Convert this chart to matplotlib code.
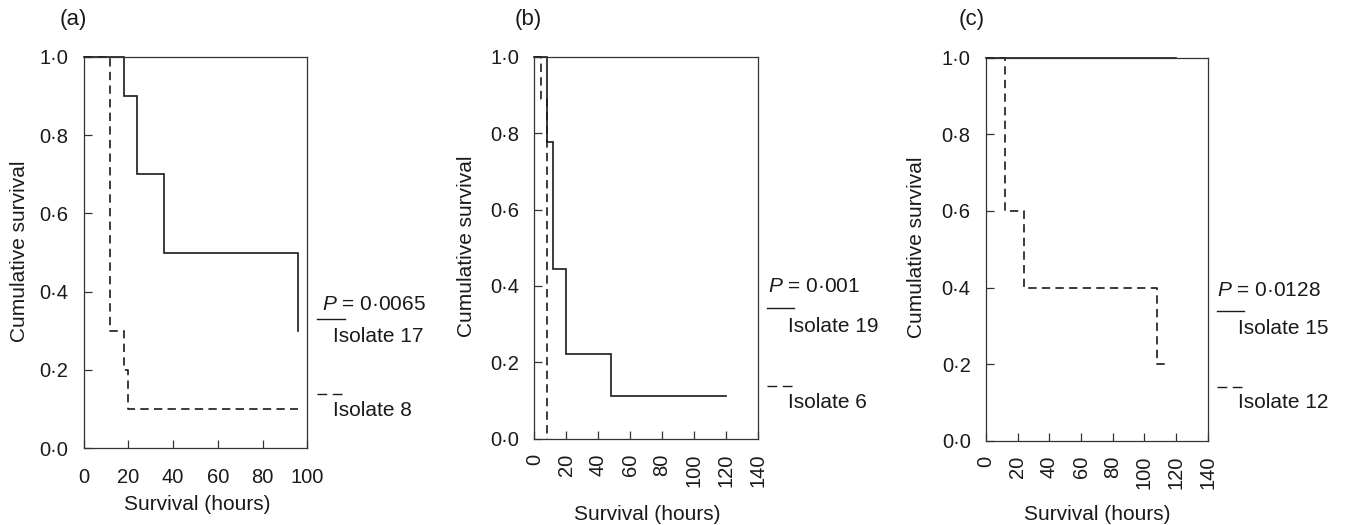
import matplotlib
matplotlib.use("Agg")
import matplotlib.pyplot as plt
from matplotlib.lines import Line2D
from matplotlib.ticker import FixedLocator, FixedFormatter

plt.rcParams['font.family'] = ['Liberation Sans', 'DejaVu Sans']
plt.rcParams['mathtext.fontset'] = 'custom'
plt.rcParams['mathtext.it'] = 'Liberation Sans:italic'
plt.rcParams['mathtext.rm'] = 'Liberation Sans'
plt.rcParams['lines.scale_dashes'] = False

# ---------------- data ----------------
panel_labels = ["(a)", "(b)", "(c)"]
p_values = ["0·0065", "0·001", "0·0128"]
solid_names = ["Isolate 17", "Isolate 19", "Isolate 15"]
dash_names = ["Isolate 8", "Isolate 6", "Isolate 12"]

a_solid_t = [0, 18, 24, 36, 96]
a_solid_s = [1.0, 0.9, 0.7, 0.5, 0.3]
a_dash_t = [0, 12, 18, 20, 96]
a_dash_s = [1.0, 0.3, 0.2, 0.1, 0.1]

b_solid_t = [0, 8, 12, 20, 48, 120]
b_solid_s = [1.0, 0.778, 0.444, 0.222, 0.111, 0.111]
b_dash_t = [0, 4, 8]
b_dash_s = [1.0, 0.889, 0.0]

c_solid_t = [0, 120]
c_solid_s = [1.0, 1.0]
c_dash_t = [0, 12, 24, 108, 114]
c_dash_s = [1.0, 0.6, 0.4, 0.2, 0.2]

y_ticks = [0.0, 0.2, 0.4, 0.6, 0.8, 1.0]
y_ticklabels = ["0·0", "0·2", "0·4", "0·6", "0·8", "1·0"]
a_xticks = [0, 20, 40, 60, 80, 100]
bc_xticks = [0, 20, 40, 60, 80, 100, 120, 140]

# ---------------- layout ----------------
W, H = 1345, 525
fig = plt.figure(figsize=(W / 100, H / 100), dpi=100)
INK = '#1a1a1a'
DASH = (0, (6.0, 3.8))


def fx(x):
    return x / W


def fy(y):
    return 1 - y / H


def make_ax(l, r, t, b):
    return fig.add_axes([fx(l), fy(b), fx(r - l), (b - t) / H])


axes_px = [(83.5, 307.3, 56.7, 448.3),
           (534.3, 757.7, 56.7, 438.7),
           (986.0, 1207.7, 57.7, 440.7)]
curves = [((a_solid_t, a_solid_s), (a_dash_t, a_dash_s)),
          ((b_solid_t, b_solid_s), (b_dash_t, b_dash_s)),
          ((c_solid_t, c_solid_s), (c_dash_t, c_dash_s))]
xticks_list = [a_xticks, bc_xticks, bc_xticks]
xmax_list = [100, 140, 140]

for i in range(3):
    ax = make_ax(*axes_px[i])
    (st, ss), (dt, ds) = curves[i]
    ax.step(st, ss, where='post', color=INK, lw=1.2, solid_joinstyle='miter', clip_on=False)
    ax.step(dt, ds, where='post', color=INK, lw=1.2, linestyle=DASH, clip_on=False)
    ax.set_xlim(0, xmax_list[i])
    ax.set_ylim(0, 1.0)
    for sp in ax.spines.values():
        sp.set_linewidth(0.9)
        sp.set_color('#333333')
    ax.yaxis.set_major_locator(FixedLocator(y_ticks))
    ax.yaxis.set_major_formatter(FixedFormatter(y_ticklabels))
    ax.xaxis.set_major_locator(FixedLocator(xticks_list[i]))
    ax.xaxis.set_major_formatter(FixedFormatter([str(v) for v in xticks_list[i]]))
    ax.tick_params(axis='both', direction='in', length=5.5, width=0.9, color='#333333',
                   labelsize=14.5, labelcolor=INK)
    ax.tick_params(axis='y', pad=11)
    if i == 0:
        ax.tick_params(axis='x', pad=14)
    else:
        ax.tick_params(axis='x', pad=11, labelrotation=90)

# panel labels
label_pos = [(73, 20), (528, 20), (972, 20)]
for lab, (x, y) in zip(panel_labels, label_pos):
    fig.text(fx(x), fy(y), lab, ha='center', va='center', fontsize=16, color=INK)

# y labels
ylab_pos = [(20, 251), (467, 246), (917, 247)]
for (x, y) in ylab_pos:
    fig.text(fx(x), fy(y), "Cumulative survival", rotation=90, ha='center', va='center',
             fontsize=15, color=INK)

# x labels
xlab_pos = [(197, 505), (647, 515), (1097, 515)]
for (x, y) in xlab_pos:
    fig.text(fx(x), fy(y), "Survival (hours)", ha='center', va='center', fontsize=15, color=INK)

# legends: (P text x, P y, line x0, line x1, solid y, isolate x, iso1 y, dash y, iso2 y)
leg = [(322.5, 305, 317, 345, 319, 333, 337, 394, 411),
       (768, 287, 767, 794, 308, 788, 327, 386, 402),
       (1217, 290, 1217, 1244, 311, 1238, 328, 387, 403)]
for i, (px_, py, lx0, lx1, sy, ix, iy1, dy, iy2) in enumerate(leg):
    fig.text(fx(px_), fy(py), r"$\mathit{P}$" + " = " + p_values[i], ha='left', va='center',
             fontsize=15, color=INK)
    fig.add_artist(Line2D([fx(lx0), fx(lx1)], [fy(sy), fy(sy)], transform=fig.transFigure,
                          color=INK, lw=1.0))
    fig.text(fx(ix), fy(iy1), solid_names[i], ha='left', va='center', fontsize=15, color=INK)
    fig.add_artist(Line2D([fx(lx0), fx(lx1)], [fy(dy), fy(dy)], transform=fig.transFigure,
                          color=INK, lw=1.0, linestyle=(0, (7.0, 4.0))))
    fig.text(fx(ix), fy(iy2), dash_names[i], ha='left', va='center', fontsize=15, color=INK)

fig.savefig("out.png", dpi=100, facecolor='white')
